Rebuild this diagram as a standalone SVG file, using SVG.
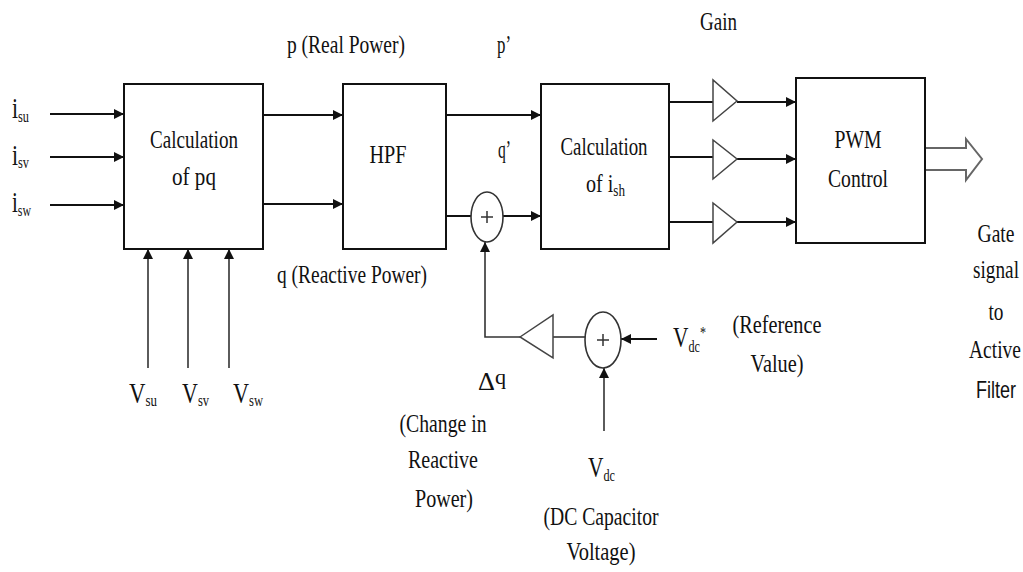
<svg xmlns="http://www.w3.org/2000/svg" width="1023" height="572" viewBox="0 0 1023 572">
<style>
text{font-family:"Liberation Serif","Times New Roman",serif;fill:#111;}
.t{font-size:26px;}
.m{text-anchor:middle;}
.big{font-size:30px;}
.sub{font-size:17px;}
.box{fill:#fff;stroke:#111;stroke-width:2;}
.ln{fill:none;stroke:#111;stroke-width:2;}
.fb{fill:none;stroke:#333;stroke-width:1.6;}
.tri{fill:#fff;stroke:#444;stroke-width:1.5;}
.sum{fill:#fff;stroke:#333;stroke-width:1.6;}
</style>
<defs>
<marker id="ah" viewBox="0 0 10 10" refX="10" refY="5" markerWidth="10" markerHeight="10" markerUnits="userSpaceOnUse" orient="auto">
<path d="M0,0 L10,5 L0,10 z" fill="#111"/>
</marker>
</defs>
<rect width="1023" height="572" fill="#fff"/>

<g id="connectors">
<line class="ln" x1="50" y1="114" x2="124" y2="114" marker-end="url(#ah)"/>
<line class="ln" x1="50" y1="157" x2="124" y2="157" marker-end="url(#ah)"/>
<line class="ln" x1="50" y1="205" x2="124" y2="205" marker-end="url(#ah)"/>
<line class="fb" x1="148" y1="368" x2="148" y2="249" marker-end="url(#ah)"/>
<line class="fb" x1="188" y1="368" x2="188" y2="249" marker-end="url(#ah)"/>
<line class="fb" x1="229" y1="368" x2="229" y2="249" marker-end="url(#ah)"/>
<line class="ln" x1="263" y1="115" x2="343" y2="115" marker-end="url(#ah)"/>
<line class="ln" x1="263" y1="204" x2="343" y2="204" marker-end="url(#ah)"/>
<line class="ln" x1="446" y1="115" x2="541" y2="115" marker-end="url(#ah)"/>
<line class="ln" x1="446" y1="216" x2="471" y2="216"/>
<line class="ln" x1="503" y1="216" x2="541" y2="216" marker-end="url(#ah)"/>
<polyline class="fb" points="520,337 485,337 485,242" marker-end="url(#ah)"/>
<line class="fb" x1="553" y1="337" x2="585" y2="337"/>
<line class="ln" x1="657" y1="339" x2="621" y2="339" marker-end="url(#ah)"/>
<line class="fb" x1="604" y1="431" x2="604" y2="368" marker-end="url(#ah)"/>
<line class="ln" x1="669" y1="102" x2="713" y2="102"/>
<line class="ln" x1="669" y1="157" x2="713" y2="157"/>
<line class="ln" x1="669" y1="222" x2="713" y2="222"/>
<line class="ln" x1="737" y1="102" x2="796" y2="102" marker-end="url(#ah)"/>
<line class="ln" x1="737" y1="159" x2="796" y2="159" marker-end="url(#ah)"/>
<line class="ln" x1="737" y1="222" x2="796" y2="222" marker-end="url(#ah)"/>
<polygon points="925,148 966,148 966,139 982,159 966,180 966,170 925,170" fill="#fff" stroke="#666" stroke-width="2"/>
</g>

<g id="calc-pq">
<rect class="box" x="124" y="84" width="139" height="165"/>
<text class="t m" x="194" y="148" textLength="88" lengthAdjust="spacingAndGlyphs">Calculation</text>
<text class="t m" x="194" y="185" textLength="44" lengthAdjust="spacingAndGlyphs">of pq</text>
</g>

<g id="hpf">
<rect class="box" x="343" y="84" width="103" height="165"/>
<text class="t m" x="388" y="163" textLength="37" lengthAdjust="spacingAndGlyphs">HPF</text>
</g>

<g id="sum1">
<ellipse class="sum" cx="487" cy="217" rx="16" ry="25"/>
<path d="M481,217 H493 M487,211 V223" stroke="#333" stroke-width="1.5"/>
</g>

<g id="calc-ish">
<rect class="box" x="541" y="84" width="128" height="165"/>
<text class="t m" x="604" y="155" textLength="87" lengthAdjust="spacingAndGlyphs">Calculation</text>
<text class="t" x="586" y="192" textLength="39" lengthAdjust="spacingAndGlyphs">of i<tspan class="sub" dy="4">sh</tspan></text>
</g>

<g id="gain1"><polygon class="tri" points="713,80 713,121 737,101"/></g>
<g id="gain2"><polygon class="tri" points="713,140 713,179 737,159"/></g>
<g id="gain3"><polygon class="tri" points="713,203 713,243 737,222"/></g>

<g id="pwm">
<rect class="box" x="796" y="78" width="129" height="165"/>
<text class="t m" x="858" y="148" textLength="47" lengthAdjust="spacingAndGlyphs">PWM</text>
<text class="t m" x="858" y="187" textLength="60" lengthAdjust="spacingAndGlyphs">Control</text>
</g>

<g id="gain-dq">
<polygon class="tri" points="520,337 553,315 553,358"/>
</g>

<g id="sum2">
<ellipse class="sum" cx="603" cy="340" rx="18" ry="28"/>
<path d="M597,340 H609 M603,334 V346" stroke="#333" stroke-width="1.5"/>
</g>

<g id="labels">
<text class="big" x="12" y="118" textLength="17" lengthAdjust="spacingAndGlyphs">i<tspan class="sub" dy="4">su</tspan></text>
<text class="big" x="12" y="165" textLength="17" lengthAdjust="spacingAndGlyphs">i<tspan class="sub" dy="3">sv</tspan></text>
<text class="big" x="12" y="212" textLength="19" lengthAdjust="spacingAndGlyphs">i<tspan class="sub" dy="4">sw</tspan></text>

<text class="big" x="129" y="403" textLength="28" lengthAdjust="spacingAndGlyphs">V<tspan class="sub" dy="3">su</tspan></text>
<text class="big" x="182" y="403" textLength="27" lengthAdjust="spacingAndGlyphs">V<tspan class="sub" dy="3">sv</tspan></text>
<text class="big" x="233" y="403" textLength="30" lengthAdjust="spacingAndGlyphs">V<tspan class="sub" dy="3">sw</tspan></text>

<text class="t" x="287" y="53" textLength="118" lengthAdjust="spacingAndGlyphs">p (Real Power)</text>
<text class="t" x="497" y="53" textLength="14" lengthAdjust="spacingAndGlyphs">p’</text>
<text class="t" x="498" y="158" textLength="13" lengthAdjust="spacingAndGlyphs">q’</text>
<text class="t" x="277" y="283" textLength="150" lengthAdjust="spacingAndGlyphs">q (Reactive Power)</text>
<text class="t" x="700" y="30" font-size="24" textLength="37" lengthAdjust="spacingAndGlyphs">Gain</text>

<text class="t" x="478" y="390" textLength="28" lengthAdjust="spacingAndGlyphs">Δ<tspan font-size="22" dy="-6">q</tspan></text>
<text class="t m" x="443" y="432" textLength="87" lengthAdjust="spacingAndGlyphs">(Change in</text>
<text class="t m" x="443" y="468" textLength="70" lengthAdjust="spacingAndGlyphs">Reactive</text>
<text class="t m" x="444" y="507" textLength="58" lengthAdjust="spacingAndGlyphs">Power)</text>

<text class="big" x="673" y="347" textLength="33" lengthAdjust="spacingAndGlyphs">V<tspan class="sub" dy="5">dc</tspan><tspan class="sub" dy="-14">*</tspan></text>
<text class="t m" x="777" y="333" textLength="89" lengthAdjust="spacingAndGlyphs">(Reference</text>
<text class="t m" x="777" y="372" textLength="53" lengthAdjust="spacingAndGlyphs">Value)</text>

<text class="big" x="588" y="477" textLength="27" lengthAdjust="spacingAndGlyphs">V<tspan class="sub" dy="4">dc</tspan></text>
<text class="t m" x="601" y="525" textLength="115" lengthAdjust="spacingAndGlyphs">(DC Capacitor</text>
<text class="t m" x="601" y="560" textLength="69" lengthAdjust="spacingAndGlyphs">Voltage)</text>

<text class="t m" x="996" y="242" font-size="24" textLength="37" lengthAdjust="spacingAndGlyphs">Gate</text>
<text class="t m" x="996" y="278" font-size="24" textLength="46" lengthAdjust="spacingAndGlyphs">signal</text>
<text class="t m" x="996" y="320" font-size="24" textLength="15" lengthAdjust="spacingAndGlyphs">to</text>
<text class="t m" x="995" y="358" font-size="24" textLength="52" lengthAdjust="spacingAndGlyphs">Active</text>
<text class="m" x="996" y="398" font-size="24" style="font-family:'Liberation Sans',Arial,sans-serif" textLength="40" lengthAdjust="spacingAndGlyphs">Filter</text>
</g>
</svg>
